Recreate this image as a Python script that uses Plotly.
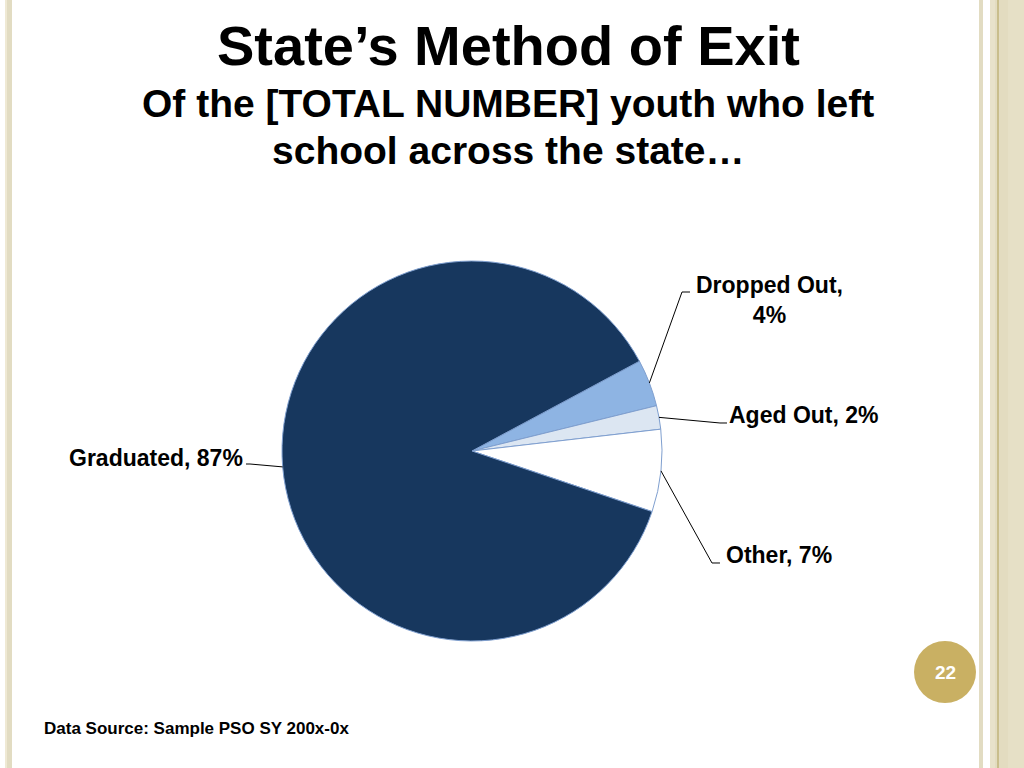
import math
import plotly.graph_objects as go

# ---- data ----
labels = ["Dropped Out", "Aged Out", "Other", "Graduated"]
values = [4, 2, 7, 87]
colors = ["#8EB4E3", "#DCE6F2", "#FFFFFF", "#17375E"]
label_texts = ["Dropped Out,<br>4%", "Aged Out, 2%", "Other, 7%", "Graduated, 87%"]

title_main = "State’s Method of Exit"
title_sub_1 = "Of the [TOTAL NUMBER] youth who left"
title_sub_2 = "school across the state…"
source_text = "Data Source: Sample PSO SY 200x-0x"
page_no = "22"

# ---- layout constants ----
W, H = 1024, 768
CX, CY, R = 472, 451, 190
ROTATION = 61.8

fig = go.Figure()
fig.add_trace(go.Pie(
    labels=labels, values=values, sort=False, direction="clockwise",
    rotation=ROTATION, textinfo="none", hoverinfo="label+percent",
    marker=dict(colors=colors, line=dict(color="#7F9FCF", width=1)),
    domain=dict(x=[(CX - R) / W, (CX + R) / W], y=[1 - (CY + R) / H, 1 - (CY - R) / H]),
    showlegend=False,
))

def px(x, y):
    return x / W, 1 - y / H

# mid-angle edge points computed from the data
total = sum(values)
edge = []
cum = 0
for v in values:
    mid = ROTATION + 360 * (cum + v / 2) / total
    cum += v
    a = math.radians(mid)
    edge.append((CX + R * math.sin(a), CY - R * math.cos(a)))

# label anchor positions (pixels) and elbows
label_pos = [
    dict(x=694, y=270, xanchor="left", yanchor="top", align="center", elbow=[(682, 292), (690, 292)]),
    dict(x=727, y=415, xanchor="left", yanchor="middle", align="left", elbow=[(720, 423), (727, 423)]),
    dict(x=724, y=555, xanchor="left", yanchor="middle", align="left", elbow=[(712, 563), (720, 563)]),
    dict(x=245, y=458, xanchor="right", yanchor="middle", align="right", elbow=[(250, 464), (246, 464)]),
]

shapes = []
annotations = []
lab_font = dict(family="Liberation Sans Narrow, Arial Narrow, Liberation Sans, Arial", size=23, color="#000000")
for i, lp in enumerate(label_pos):
    pts = [edge[i]] + lp["elbow"]
    path = "M " + " L ".join(f"{px(x, y)[0]:.5f},{px(x, y)[1]:.5f}" for x, y in pts)
    shapes.append(dict(type="path", xref="paper", yref="paper", path=path,
                       line=dict(color="#000000", width=1)))
    ax, ay = px(lp["x"], lp["y"])
    annotations.append(dict(x=ax, y=ay, xref="paper", yref="paper", text="<b>" + label_texts[i] + "</b>",
                            showarrow=False, xanchor=lp["xanchor"], yanchor=lp["yanchor"],
                            align=lp["align"], font=lab_font))

# titles
tfont = "Liberation Sans, Arial, sans-serif"
annotations.append(dict(x=px(508, 0)[0], y=px(0, 45)[1], xref="paper", yref="paper",
                        text="<b>" + title_main + "</b>", showarrow=False, xanchor="center", yanchor="middle",
                        font=dict(family=tfont, size=56, color="#000000")))
annotations.append(dict(x=px(508, 0)[0], y=px(0, 103)[1], xref="paper", yref="paper",
                        text="<b>" + title_sub_1 + "</b>", showarrow=False, xanchor="center", yanchor="middle",
                        font=dict(family=tfont, size=39, color="#000000")))
annotations.append(dict(x=px(508, 0)[0], y=px(0, 150)[1], xref="paper", yref="paper",
                        text="<b>" + title_sub_2 + "</b>", showarrow=False, xanchor="center", yanchor="middle",
                        font=dict(family=tfont, size=39, color="#000000")))
annotations.append(dict(x=px(42, 0)[0], y=px(0, 728)[1], xref="paper", yref="paper",
                        text="<b>" + source_text + "</b>", showarrow=False, xanchor="left", yanchor="middle",
                        font=dict(family=tfont, size=17, color="#000000")))

# page number badge
shapes.append(dict(type="circle", xref="paper", yref="paper",
                   x0=px(914, 0)[0], x1=px(976, 0)[0], y0=px(0, 703)[1], y1=px(0, 641)[1],
                   fillcolor="#C9B063", line=dict(width=0)))
annotations.append(dict(x=px(945, 0)[0], y=px(0, 672)[1], xref="paper", yref="paper",
                        text="<b>" + page_no + "</b>", showarrow=False, xanchor="center", yanchor="middle",
                        font=dict(family=tfont, size=19, color="#FFFFFF")))

# slide borders
def band(x0, x1, color):
    shapes.append(dict(type="rect", xref="paper", yref="paper", x0=x0 / W, x1=x1 / W, y0=0, y1=1,
                       fillcolor=color, line=dict(width=0), layer="below"))

band(5, 7, "#EFE9D4")
band(7, 12, "#E2DCC2")
band(979, 983, "#E2DCC2")
band(990, 1024, "#E3DCC0")
band(990, 995, "#E8E2CA")
band(997, 999, "#C9BE8C")
band(1008, 1024, "#E6E0C6")

fig.update_layout(
    width=W, height=H, margin=dict(l=0, r=0, t=0, b=0),
    paper_bgcolor="#FFFFFF", plot_bgcolor="#FFFFFF",
    shapes=shapes, annotations=annotations,
)
fig.write_html("out.html", config={"displayModeBar": False},
               post_script="document.body.style.margin='0';document.body.style.overflow='hidden';")
